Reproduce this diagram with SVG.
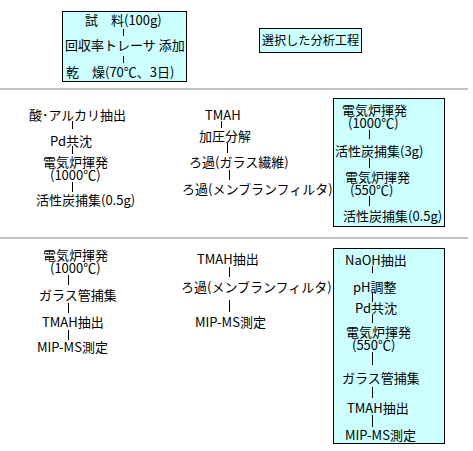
<svg xmlns="http://www.w3.org/2000/svg" width="473" height="451" viewBox="0 0 473 451">
<style>
text{font-family:"Noto Sans CJK JP","Liberation Sans",sans-serif;font-size:13px;fill:#000}
.box{fill:#ccffff;stroke:#000;stroke-width:1}
.sep{stroke:#c0c0c0;stroke-width:2}
.c line{stroke:#000;stroke-width:1}
</style>
<rect width="473" height="451" fill="#fff"/>
<line class="sep" x1="0" y1="89" x2="468" y2="89"/>
<line class="sep" x1="0" y1="238" x2="468" y2="238"/>

<g id="sample">
<rect class="box" x="62.5" y="11.5" width="124" height="70"/>
<text x="85" y="24.5">試　料(100g)</text>
<text x="65" y="49.5">回収率トレーサ 添加</text>
<text x="66" y="77">乾　燥(70℃、3日)</text>
</g>
<g id="selected">
<rect class="box" x="259.5" y="28.5" width="102" height="24"/>
<text x="310.5" y="45" text-anchor="middle" style="font-size:12.2px">選択した分析工程</text>
</g>

<g id="a1"><text x="29" y="120">酸･アルカリ抽出</text></g>
<g id="a2"><text x="50" y="146">Pd共沈</text></g>
<g id="a3"><text x="43" y="167">電気炉揮発<tspan x="50" y="180">(1000℃)</tspan></text></g>
<g id="a4"><text x="36" y="205">活性炭捕集(0.5g)</text></g>

<g id="b1"><text x="205" y="120">TMAH</text></g>
<g id="b2"><text x="199" y="141">加圧分解</text></g>
<g id="b3"><text x="189" y="167">ろ過(ガラス繊維)</text></g>
<g id="b4"><text x="182" y="194">ろ過(メンブランフィルタ)</text></g>

<g id="c">
<rect class="box" x="333.5" y="98.5" width="111" height="128"/>
<g id="c1"><text x="342" y="115">電気炉揮発<tspan x="348" y="128">(1000℃)</tspan></text></g>
<g id="c2"><text x="335" y="155.5">活性炭捕集(3g)</text></g>
<g id="c3"><text x="345" y="182">電気炉揮発<tspan x="350" y="195">(550℃)</tspan></text></g>
<g id="c4"><text x="343" y="220.5">活性炭捕集(0.5g)</text></g>
</g>

<g id="d1"><text x="43" y="260">電気炉揮発<tspan x="50" y="273">(1000℃)</tspan></text></g>
<g id="d2"><text x="39" y="300">ガラス管捕集</text></g>
<g id="d3"><text x="42" y="327">TMAH抽出</text></g>
<g id="d4"><text x="37" y="352">MIP-MS測定</text></g>

<g id="e1"><text x="197" y="264">TMAH抽出</text></g>
<g id="e2"><text x="181" y="292">ろ過(メンブランフィルタ)</text></g>
<g id="e3"><text x="195" y="327">MIP-MS測定</text></g>

<g id="f">
<rect class="box" x="333.5" y="248.5" width="111" height="195"/>
<g id="f1"><text x="345" y="265">NaOH抽出</text></g>
<g id="f2"><text x="353" y="292">pH調整</text></g>
<g id="f3"><text x="355" y="313">Pd共沈</text></g>
<g id="f4"><text x="346" y="337">電気炉揮発<tspan x="352" y="350">(550℃)</tspan></text></g>
<g id="f5"><text x="342" y="383">ガラス管捕集</text></g>
<g id="f6"><text x="347" y="413">TMAH抽出</text></g>
<g id="f7"><text x="345" y="440">MIP-MS測定</text></g>
</g>

<g class="c" id="connectors">
<line x1="123.5" y1="29" x2="123.5" y2="36"/>
<line x1="123.5" y1="56" x2="123.5" y2="63"/>
<line x1="72.5" y1="121" x2="72.5" y2="129"/>
<line x1="72.5" y1="146" x2="72.5" y2="154"/>
<line x1="72.5" y1="182" x2="72.5" y2="192"/>
<line x1="221.5" y1="121" x2="221.5" y2="128"/>
<line x1="227.5" y1="143" x2="227.5" y2="153"/>
<line x1="229.5" y1="170" x2="229.5" y2="180"/>
<line x1="369.5" y1="130" x2="369.5" y2="139"/>
<line x1="369.5" y1="158" x2="369.5" y2="168"/>
<line x1="369.5" y1="196" x2="369.5" y2="206"/>
<line x1="68.5" y1="275" x2="68.5" y2="285"/>
<line x1="68.5" y1="303" x2="68.5" y2="313"/>
<line x1="68.5" y1="330" x2="68.5" y2="340"/>
<line x1="229.5" y1="267" x2="229.5" y2="277"/>
<line x1="229.5" y1="300" x2="229.5" y2="312"/>
<line x1="372.5" y1="266" x2="372.5" y2="273"/>
<line x1="372.5" y1="293" x2="372.5" y2="302"/>
<line x1="372.5" y1="315" x2="372.5" y2="323"/>
<line x1="372.5" y1="352" x2="372.5" y2="365"/>
<line x1="372.5" y1="387" x2="372.5" y2="398"/>
<line x1="372.5" y1="415" x2="372.5" y2="427"/>
</g>
</svg>
